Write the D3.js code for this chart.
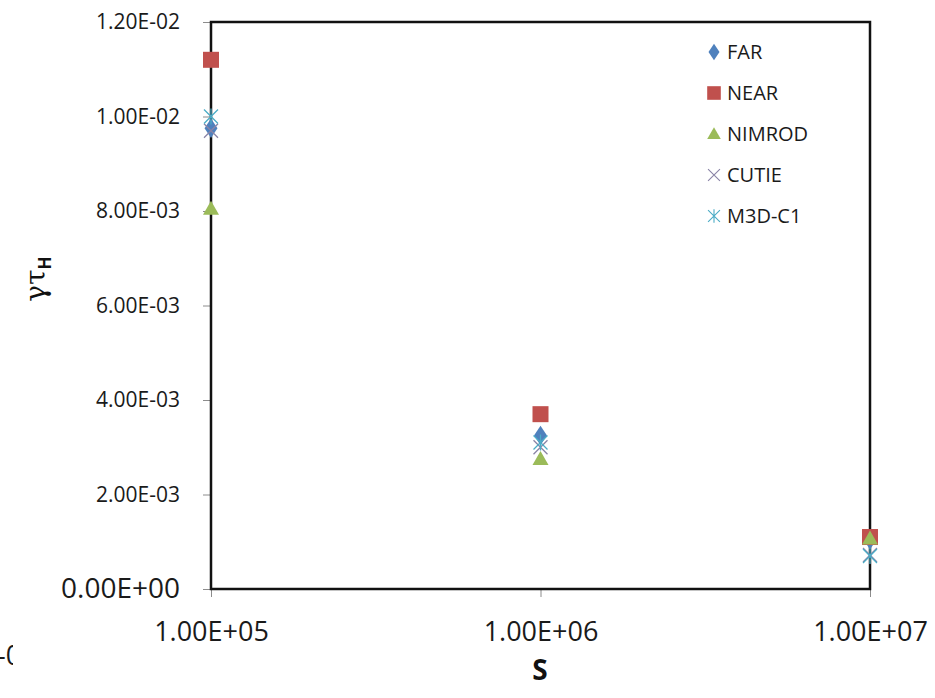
<!DOCTYPE html>
<html>
<head>
<meta charset="utf-8">
<script src="https://cdn.jsdelivr.net/npm/d3@7"></script>
<style>
  html, body { margin: 0; padding: 0; background: #fff; }
  svg { display: block; }
  text { font-family: "Open Sans", "Liberation Sans", sans-serif; }
</style>
</head>
<body>
<svg id="chart" width="935" height="698"></svg>
<script>
// Lundquist number S (log axis) and normalised growth rate for each code
const sValues = [1e5, 1e6, 1e7];
const xTickValues = [1e5, 1e6, 1e7];
const yTickValues = [0, 0.002, 0.004, 0.006, 0.008, 0.010, 0.012];

const farValues    = [0.00975, 0.00325, 0.00104];
const nearValues   = [0.0112,  0.0037,  0.0011];
const nimrodValues = [0.00805, 0.00275, 0.00107];
const cutieValues  = [0.0097,  0.0030,  0.00072];
const m3dc1Values  = [0.0100,  0.0031,  0.00070];

const seriesNames = ["FAR", "NEAR", "NIMROD", "CUTIE", "M3D-C1"];

const series = [
  { name: seriesNames[0], values: farValues,    shape: "diamond",  color: "#4F81BD" },
  { name: seriesNames[1], values: nearValues,   shape: "square",   color: "#C0504D" },
  { name: seriesNames[2], values: nimrodValues, shape: "triangle", color: "#9BBB59" },
  { name: seriesNames[3], values: cutieValues,  shape: "cross",    color: "#8a84a6" },
  { name: seriesNames[4], values: m3dc1Values,  shape: "star",     color: "#4BACC6" }
];

const svg = d3.select("#chart");
const margin = { left: 211, top: 22, right: 65, bottom: 109 };
const W = 935, H = 698;
const innerW = W - margin.left - margin.right;
const innerH = H - margin.top - margin.bottom;

const x = d3.scaleLog().domain([1e5, 1e7]).range([margin.left, margin.left + innerW]);
const y = d3.scaleLinear().domain([0, 0.012]).range([margin.top + innerH, margin.top]);

// Excel-style scientific notation: 1.20E-02
function sci(v) {
  if (v === 0) return "0.00E+00";
  const [m, e] = v.toExponential(2).split("e");
  const n = +e;
  const sign = n < 0 ? "-" : "+";
  return m + "E" + sign + String(Math.abs(n)).padStart(2, "0");
}

// Axes
const yAxis = svg.append("g")
  .attr("transform", `translate(${margin.left},0)`)
  .call(d3.axisLeft(y).tickValues(yTickValues).tickFormat(sci).tickSize(8).tickPadding(23));
const xAxis = svg.append("g")
  .attr("transform", `translate(0,${margin.top + innerH})`)
  .call(d3.axisBottom(x).tickValues(xTickValues).tickFormat(sci).tickSize(8).tickPadding(25));

[yAxis, xAxis].forEach(g => {
  g.select(".domain").remove();
  g.selectAll(".tick line").attr("stroke", "#8c8c8c").attr("stroke-width", 1);
  g.selectAll(".tick text").attr("fill", "#1a1a1a")
    .style("font-family", "'Open Sans', sans-serif");
});
yAxis.selectAll(".tick text").style("font-size", d => d === 0 ? "28px" : "21px");
xAxis.selectAll(".tick text").style("font-size", "27px");

// Plot frame
svg.append("rect")
  .attr("x", margin.left).attr("y", margin.top)
  .attr("width", innerW).attr("height", innerH)
  .attr("fill", "none").attr("stroke", "#111").attr("stroke-width", 2.5);

// Marker shapes
function drawMarker(g, shape, color) {
  if (shape === "diamond") {
    g.append("path").attr("d", d3.symbol(d3.symbolDiamond, 110)()).attr("fill", color)
      .attr("transform", "scale(1.15,1)");
  } else if (shape === "square") {
    g.append("rect").attr("x", -8).attr("y", -8).attr("width", 16).attr("height", 16).attr("fill", color);
  } else if (shape === "triangle") {
    g.append("path").attr("d", "M0,-8L8,6L-8,6Z").attr("fill", color);
  } else if (shape === "cross") {
    g.append("path").attr("d", "M-7,-7L7,7M-7,7L7,-7").attr("stroke", color)
      .attr("stroke-width", 1.3).attr("fill", "none");
  } else if (shape === "star") {
    g.append("path").attr("d", "M-7,-7L7,7M-7,7L7,-7M0,-8L0,8").attr("stroke", color)
      .attr("stroke-width", 1.3).attr("fill", "none");
  }
}

// Data points
series.forEach(s => {
  const g = svg.append("g").attr("class", "series");
  s.values.forEach((v, i) => {
    const m = g.append("g").attr("transform", `translate(${x(sValues[i])},${y(v)})`);
    drawMarker(m, s.shape, s.color);
  });
});

// Legend
const legend = svg.append("g").attr("transform", "translate(714,52)");
series.forEach((s, i) => {
  const row = legend.append("g").attr("transform", `translate(0,${i * 41})`);
  drawMarker(row.append("g").attr("transform", "scale(0.85)"), s.shape, s.color);
  row.append("text").attr("x", 13).attr("y", 0).attr("dy", "0.35em")
    .style("font-size", "20px").attr("fill", "#1a1a1a").text(s.name);
});

// Axis titles
svg.append("text").attr("x", 540).attr("y", 680).attr("text-anchor", "middle")
  .style("font-size", "28px").style("font-weight", "bold").attr("fill", "#111").text("S");

const yTitle = svg.append("text")
  .attr("transform", "translate(45,279) rotate(-90)")
  .attr("text-anchor", "middle").attr("fill", "#111");
yTitle.append("tspan").style("font-family", "'DejaVu Serif', serif").style("font-size", "28px").text("γτ");
yTitle.append("tspan").attr("dy", 6).style("font-size", "17px").style("font-weight", "bold").text("H");

// Left-edge fragment of a neighbouring label, clipped by the frame edge
svg.append("clipPath").attr("id", "edge").append("rect").attr("x", 0).attr("y", 630).attr("width", 13).attr("height", 45);
svg.append("text").attr("x", -3).attr("y", 665).attr("clip-path", "url(#edge)")
  .style("font-size", "27px").attr("fill", "#1a1a1a").text("-0");
</script>
</body>
</html>
